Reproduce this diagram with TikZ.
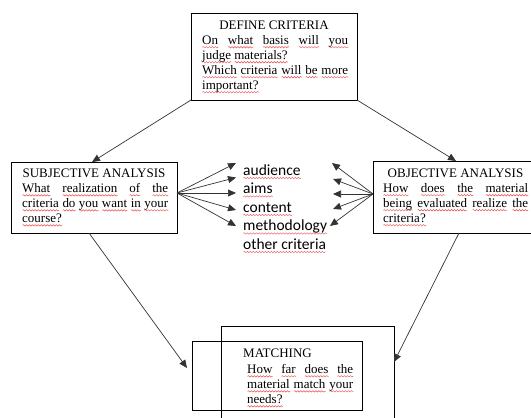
\documentclass[tikz,border=0pt]{standalone}
\usepackage{fontspec}
\setmainfont{Liberation Serif}
\newfontfamily\calib{Carlito}
\usetikzlibrary{arrows.meta,decorations.pathmorphing}
\definecolor{squig}{rgb}{0.92,0.3,0.3}
\newsavebox\wvbox
\newlength\wvlen
\newcommand\wv[1]{\sbox\wvbox{#1}\setlength\wvlen{\wd\wvbox}\leavevmode\rlap{\raisebox{0pt}[0pt][0pt]{\tikz[baseline=0pt]\draw[squig, line width=0.45pt, decorate, decoration={snake, amplitude=0.75pt, segment length=3pt}] (0pt,-3pt) -- (\wvlen,-3pt);}}\usebox\wvbox}
\tikzset{
  box/.style={draw=black, line width=0.9pt, inner sep=0pt, outer sep=0pt},
  head/.style={inner sep=0pt, anchor=base, font=\fontsize{13}{15}\selectfont},
  body/.style={inner sep=0pt, anchor=north west, align=justify, font=\fontsize{13}{15}\selectfont},
  crit/.style={inner sep=0pt, anchor=base west, font=\calib\fontsize{15.5}{18}\selectfont},
  arr/.style={draw=black!80, line width=0.7pt, -{Triangle[length=8pt,width=7pt]}}
}
\begin{document}
\begin{tikzpicture}[x=1pt,y=-1pt]
\useasboundingbox (0,0) rectangle (531,418);
% boxes
\node[box, minimum width=166pt, minimum height=87pt] (define) at (274,56.5) {};
\node[box, minimum width=166pt, minimum height=71pt] (subj) at (94,197.5) {};
\node[box, minimum width=166pt, minimum height=72pt] (obj) at (456,197) {};
\node[box, minimum width=173pt, minimum height=104pt] (matchout) at (307.5,378) {};
\node[box, minimum width=170pt, minimum height=69pt] (matchin) at (277,375.5) {};
% texts
\node[head] (defhead) at (274,29.5) {DEFINE CRITERIA};
\node[body, text width=146pt] (defbody) at (202,35) {\wv{On} \wv{what} \wv{basis} \wv{will} \wv{you}\linebreak \wv{judge} \wv{materials?}\\ \wv{Which} \wv{criteria} \wv{will} \wv{be} \wv{more}\linebreak \wv{important?}};
\node[head] (subjhead) at (94,177) {SUBJECTIVE ANALYSIS};
\node[body, text width=146pt] (subjbody) at (22,183) {\wv{What} \wv{realization} \wv{of} \wv{the}\linebreak \wv{criteria} \wv{do} \wv{you} \wv{want} \wv{in} \wv{your}\linebreak \wv{course?}};
\node[head] (objhead) at (455.5,177) {OBJECTIVE ANALYSIS};
\node[body, text width=145pt] (objbody) at (383,183) {\wv{How} \wv{does} \wv{the} \wv{material}\linebreak \wv{being} \wv{evaluated} \wv{realize} \wv{the}\linebreak \wv{criteria?}};
\node[head, anchor=base west] (mhead) at (243,357.5) {MATCHING};
\node[body, text width=106pt] (mbody) at (247,364) {\wv{How} \wv{far} \wv{does} \wv{the}\linebreak \wv{material} \wv{match} \wv{your}\linebreak \wv{needs?}};
% criteria
\node[crit] (c1) at (243,175) {\wv{audience}};
\node[crit] (c2) at (243,193.5) {\wv{aims}};
\node[crit] (c3) at (243,212) {\wv{content}};
\node[crit] (c4) at (243,230.5) {\wv{methodology}};
\node[crit] (c5) at (243,249) {\wv{other criteria}};
% arrow end coordinates
\coordinate (l1) at (236,163);
\coordinate (l2) at (236,177.5);
\coordinate (l3) at (236,193);
\coordinate (l4) at (236,210);
\coordinate (l5) at (236,226);
\coordinate (r1) at (332,163);
\coordinate (r2) at (333,179);
\coordinate (r3) at (333,194);
\coordinate (r4) at (333,209);
\coordinate (r5) at (330,226);
% connectors
\draw[arr] (define.south west) -- ([xshift=81pt]subj.north west);
\draw[arr] (define.south east) -- (obj.north);
\draw[arr] ([xshift=-5pt]subj.south) -- ([xshift=-5pt,yshift=7.5pt]matchin.west);
\draw[arr] ([xshift=3pt]obj.south) -- ([yshift=16pt]matchout.east);
\foreach \i in {1,...,5}{
  \draw[arr] ([yshift=4.5pt]subj.east) -- (l\i);
  \draw[arr] ([yshift=3pt]obj.west) -- (r\i);
}
\end{tikzpicture}
\end{document}
